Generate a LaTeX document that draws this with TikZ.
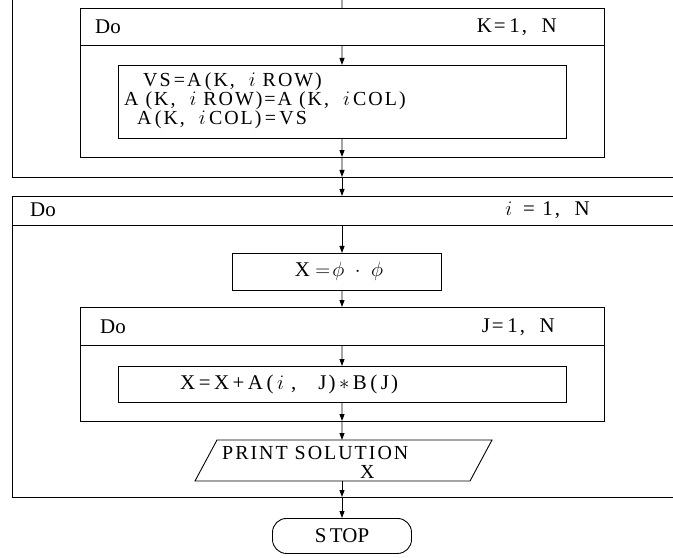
\documentclass[tikz,border=0pt]{standalone}
\usepackage{fontspec}
\setmainfont{Liberation Serif}
\newfontfamily\spfont[LetterSpace=10]{Liberation Serif}
\usetikzlibrary{arrows.meta}
\begin{document}
\begin{tikzpicture}[x=1bp,y=-1bp,
  ln/.style={line width=0.9pt},
  box/.style={draw, line width=0.9pt, inner sep=0pt, outer sep=0pt, anchor=north west},
  lbl/.style={font=\fontsize{21}{21}\selectfont, inner sep=0pt},
  slbl/.style={font=\fontsize{21}{21}\spfont, inner sep=0pt},
  arr/.style={line width=0.9pt, -{Triangle[length=7bp,width=5bp]}}]
\useasboundingbox (0,0) rectangle (673,558);

% outer loop (cropped at the top)
\coordinate (o1t) at (12,0);
\coordinate (o1b) at (12,177);
\coordinate (o1r) at (673,177);
\coordinate (o1m) at (342,177);
\draw[ln] (o1t) -- (o1b) -- (o1r);

% K loop
\node[box, minimum width=524bp, minimum height=149bp] (kbox) at (80,8) {};
\coordinate (khl) at (80,45);
\coordinate (khr) at (604,45);
\coordinate (khm) at (342,45);
\draw[ln] (khl) -- (khr);
\node[lbl, anchor=west] (kdo) at (95,27) {Do};
\node[slbl, anchor=east] (krng) at (557,27) {K=\,1,\ \ N};
\coordinate (topin) at (342,0);
\draw[ln] (topin) -- (kbox.north);

\node[box, minimum width=448bp, minimum height=73bp] (vs) at (118,65) {};
\node[slbl, anchor=west, align=left, font=\fontsize{20}{18}\spfont] (vstext) at (124,101)
  {\hspace*{19bp}VS\,=A\,(K,\ \ $i$ ROW)\\
   A (K,\ \ $i$ ROW)=A (K,\ \ $i$\,COL)\\
   \hspace*{13bp}A\,(K,\ \ $i$\,COL)\,=\,VS};

\draw[arr] (khm) -- (vs.north);
\draw[arr] (vs.south) -- (kbox.south);
\draw[arr] (kbox.south) -- (o1m);

% i loop
\coordinate (itr) at (673,196);
\coordinate (itl) at (12,196);
\coordinate (itm) at (342,196);
\coordinate (ibl) at (12,497);
\coordinate (ibr) at (673,497);
\coordinate (ibm) at (342,497);
\draw[ln] (itr) -- (itl) -- (ibl) -- (ibr);
\coordinate (ihl) at (12,225);
\coordinate (ihr) at (673,225);
\coordinate (ihm) at (342,225);
\draw[ln] (ihl) -- (ihr);
\node[lbl, anchor=west] (ido) at (30,210) {Do};
\node[slbl, anchor=east] (irng) at (590,210) {$i$\ \,=\ 1,\ \ N};
\draw[arr] (o1m) -- (itm);

\node[box, minimum width=209bp, minimum height=37bp] (xbox) at (232,253) {};
\node[lbl] (xtext) at (339,271) {X $=\!\phi$\ \ $\cdot$\ \ $\phi$};
\coordinate (xtop) at (342,253);
\coordinate (xbot) at (342,290);
\draw[arr] (ihm) -- (xtop);

% J loop
\node[box, minimum width=524bp, minimum height=114bp] (jbox) at (80,307) {};
\coordinate (jhl) at (80,345);
\coordinate (jhr) at (604,345);
\coordinate (jhm) at (342,345);
\draw[ln] (jhl) -- (jhr);
\node[lbl, anchor=west] (jdo) at (100,327) {Do};
\node[slbl, anchor=east] (jrng) at (555,327) {J=\,1,\ \ N};
\draw[arr] (xbot) -- (jbox.north);

\node[box, minimum width=448bp, minimum height=36bp] (inner) at (118,366) {};
\node[slbl, anchor=west] (innertext) at (180,384) {X\,=\,X\,+\,A\,(\,$i$\ ,\ \ \ J)\,$*$\,B\,(\,J)};
\draw[arr] (jhm) -- (inner.north);
\draw[arr] (inner.south) -- (jbox.south);

% print parallelogram
\coordinate (p1) at (217,440);
\coordinate (p2) at (492,440);
\coordinate (p3) at (470,481);
\coordinate (p4) at (195,481);
\coordinate (pt) at (342,440);
\coordinate (pb) at (342,481);
\draw[ln] (p1) -- (p2) -- (p3) -- (p4) -- cycle;
\node[slbl, anchor=west, align=left, font=\fontsize{20}{19}\spfont] (ptext) at (222,462)
  {PRINT SOLUTION\\\hspace*{138bp}X};
\draw[arr] (jbox.south) -- (pt);
\draw[arr] (pb) -- (ibm);

% stop
\node[draw, line width=0.9pt, rounded corners=14bp, minimum width=139bp, minimum height=35bp,
      anchor=north, inner sep=0pt, font=\fontsize{21}{21}\selectfont] (stop) at (342,518) {S\,TOP};
\draw[arr] (ibm) -- (stop.north);
\end{tikzpicture}
\end{document}
